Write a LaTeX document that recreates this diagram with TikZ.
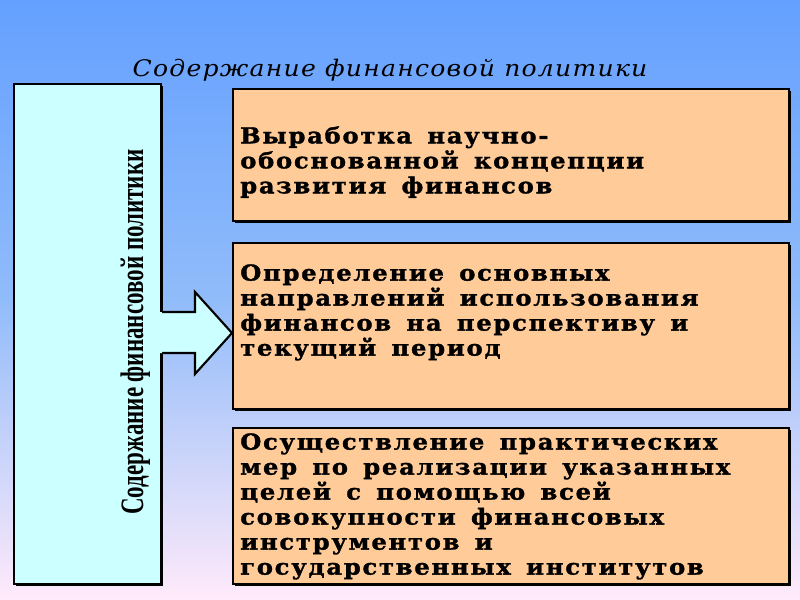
\documentclass[tikz,border=0pt]{standalone}
\usepackage{fontspec}
\usepackage{graphicx}
\setmainfont{DejaVu Serif}
\newfontfamily\boxfont[LetterSpace=8,WordSpace=1.5,FakeStretch=1.1,FakeBold=1.5]{DejaVu Serif}
\newfontfamily\titlefont[LetterSpace=5]{DejaVu Serif}
\newfontfamily\vertfont{Liberation Serif}
\usetikzlibrary{shadows}
\definecolor{bgtop}{RGB}{100,160,255}
\definecolor{bgmid}{RGB}{145,188,250}
\definecolor{bgbot}{RGB}{255,234,250}
\definecolor{cyanc}{RGB}{204,255,255}
\definecolor{peachc}{RGB}{255,204,153}
\begin{document}
\begin{tikzpicture}[x=0.75pt,y=-0.75pt,
  panel/.style={draw=black, line width=1.6pt, anchor=north west, inner sep=0pt,
    drop shadow={shadow xshift=1.5pt, shadow yshift=-1.5pt, fill=black, opacity=1}},
  peachbox/.style={panel, fill=peachc, minimum width=417pt},
  txt/.style={font=\boxfont\fontsize{16.5}{18.75}\selectfont\bfseries, align=left, inner sep=0pt, anchor=north west}]
\useasboundingbox (0,0) rectangle (800,600);
\shade[top color=bgtop, bottom color=bgmid] (0,0) rectangle (800,300);
\shade[top color=bgmid, bottom color=bgbot] (0,300) rectangle (800,600);
% title
\node (title) [anchor=base, inner sep=0pt] at (390,76)
  {\resizebox{386pt}{13pt}{\titlefont\itshape Содержание финансовой политики}};
% left box
\node (lbox) [panel, fill=cyanc, minimum width=110.25pt, minimum height=375pt] at (13,83) {};
% right boxes
\node (b1) [peachbox, minimum height=99pt] at (232,88) {};
\node (b2) [peachbox, minimum height=124.5pt] at (232,242) {};
\node (b3) [peachbox, minimum height=117pt] at (232,427) {};
% arrow
\coordinate (tip) at (232,333);
\fill[cyanc] (156,312) -- (195,312) -- (195,292) -- (tip) -- (195,374) -- (195,353) -- (156,353) -- cycle;
\draw[line width=1.6pt, line join=miter] (lbox.east |- 0,312) -- (195,312) -- (195,292) -- (tip) -- (195,374) -- (195,353) -- (lbox.east |- 0,353);
% vertical text
\node (vt) [rotate=90, anchor=base, inner sep=0pt] at (143,332)
  {\resizebox{274pt}{17pt}{\vertfont\bfseries Содержание финансовой политики}};
% texts
\node (t1) [txt] at (240,126) {Выработка научно-\\обоснованной концепции\\развития финансов};
\node (t2) [txt] at (240,264) {Определение основных\\направлений использования\\финансов на перспективу и\\текущий период};
\node (t3) [txt] at (240,433) {Осуществление практических\\мер по реализации указанных\\целей с помощью всей\\совокупности финансовых\\инструментов и\\государственных институтов};
\end{tikzpicture}
\end{document}
